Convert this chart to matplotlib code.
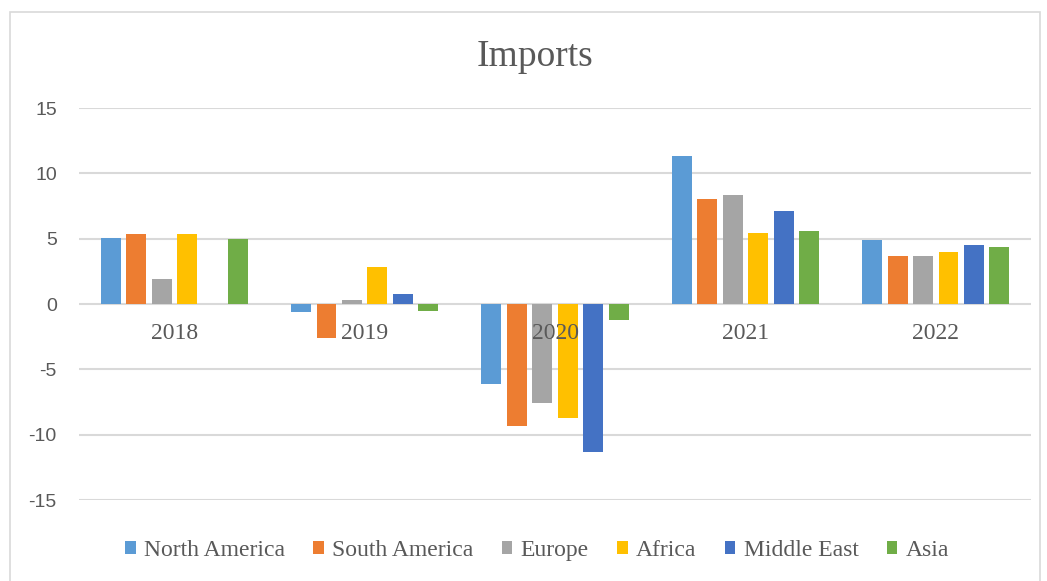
import numpy as np
import matplotlib
matplotlib.use("Agg")
import matplotlib.pyplot as plt
from matplotlib.patches import Rectangle

years = ["2018", "2019", "2020", "2021", "2022"]
regions = ["North America", "South America", "Europe", "Africa", "Middle East", "Asia"]
north_america = [5.07, -0.6, -6.1, 11.35, 4.87]
south_america = [5.36, -2.6, -9.3, 8.05, 3.65]
europe = [1.89, 0.3, -7.6, 8.36, 3.65]
africa = [5.36, 2.8, -8.7, 5.45, 3.95]
middle_east = [0.0, 0.8, -11.3, 7.15, 4.5]
asia = [4.97, -0.5, -1.25, 5.6, 4.37]
colors = ["#5B9BD5", "#ED7D31", "#A5A5A5", "#FFC000", "#4472C4", "#70AD47"]
yticks = [-15, -10, -5, 0, 5, 10, 15]

series = [north_america, south_america, europe, africa, middle_east, asia]

fig = plt.figure(figsize=(10.47, 5.81), dpi=100)
fig.patches.append(Rectangle((10 / 1047, -0.01), 1030 / 1047, 1 - 12 / 581 + 0.01,
                             transform=fig.transFigure, fill=False,
                             edgecolor="#d9d9d9", linewidth=1.2))

ax = fig.add_axes([0.0755, 0.1394, 0.9092, 0.6747])

x = np.arange(len(years))
pitch = 0.1335
width = 0.105
for i, (name, vals) in enumerate(zip(regions, series)):
    offs = (i - 2.5) * pitch
    ax.bar(x + offs, vals, width, color=colors[i], label=name, zorder=2)

ax.set_xlim(-0.5, 4.5)
ax.set_ylim(-15, 15)
ax.set_yticks(yticks)
ax.set_yticklabels([str(t) for t in yticks], fontsize=14, color="#595959",
                   family="Liberation Sans")
ax.tick_params(axis="y", length=0, pad=16)
ax.set_xticks([])
ax.grid(axis="y", color="#d9d9d9", linewidth=1.5, zorder=0)
for s in ax.spines.values():
    s.set_visible(False)

for xi, yr in zip(x, years):
    ax.annotate(yr, (xi, 0), xytext=(0, -21), textcoords="offset points",
                ha="center", va="center", fontsize=17, color="#595959",
                family="Liberation Serif", zorder=5)

fig.text(0.511, 0.903, "Imports", ha="center", va="center", fontsize=27,
         color="#595959", family="Liberation Serif")

leg = fig.legend(loc="center", bbox_to_anchor=(0.513, 0.053), ncol=6, frameon=False,
                 handlelength=0.45, handleheight=0.45, handletextpad=0.35,
                 columnspacing=1.2, prop={"family": "Liberation Serif", "size": 17})
for t in leg.get_texts():
    t.set_color("#595959")

fig.savefig("out.png", dpi=100)
